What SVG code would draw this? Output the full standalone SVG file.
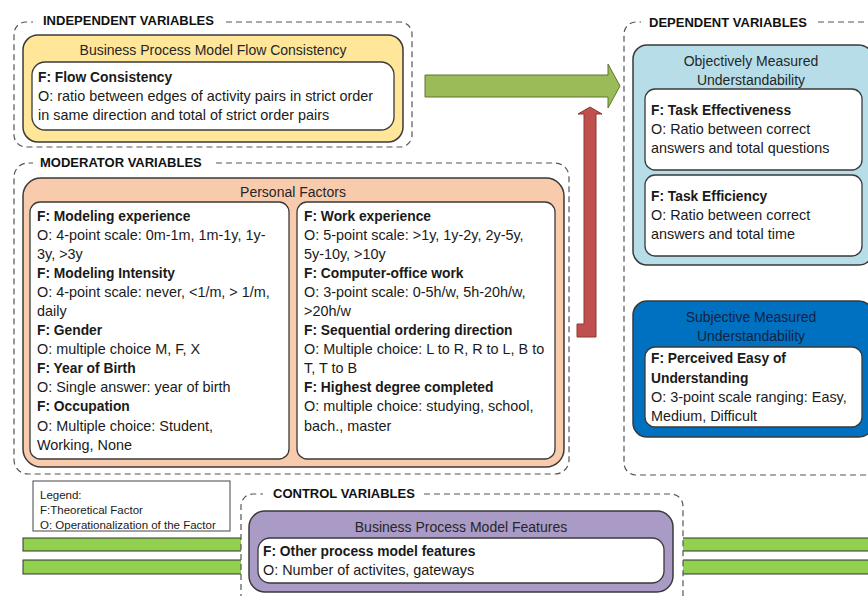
<svg xmlns="http://www.w3.org/2000/svg" width="868" height="596" viewBox="0 0 868 596">
  <defs>
    <style>
      text { font-family: "Liberation Sans", Arial, sans-serif; fill: #1a1a1a; }
      .sec { font-size: 13px; font-weight: bold; fill: #111; }
      .ttl { font-size: 14px; text-anchor: middle; fill: #262626; }
      .f { font-size: 13.8px; font-weight: bold; }
      .o { font-size: 14.4px; }
      .leg { font-size: 11.5px; }
      .group { fill: none; stroke: #555; stroke-width: 1.2; stroke-dasharray: 6 4; }
      .card { fill: #fff; stroke: #3a3a3a; stroke-width: 1.3; }
      .box { stroke: #3a3a3a; stroke-width: 1.5; }
    </style>
  </defs>

  <rect width="868" height="596" fill="#fff"/>

  <!-- control-variable bars running behind the control group -->
  <g id="bars">
    <rect x="23" y="538" width="860" height="13" fill="#92D050" stroke="#333" stroke-width="1"/>
    <rect x="23" y="560" width="860" height="14" fill="#92D050" stroke="#333" stroke-width="1"/>
  </g>

  <!-- group frames -->
  <g id="independent-group">
    <path class="group" d="M226,22 H400 A12,12 0 0 1 412,34 V135 A12,12 0 0 1 400,147 H26 A12,12 0 0 1 14,135 V34 A12,12 0 0 1 26,22 H33"/>
    <text class="sec" x="43" y="25">INDEPENDENT VARIABLES</text>
  </g>
  <g id="moderator-group">
    <path class="group" d="M216,163 H555 A14,14 0 0 1 569,177 V460 A14,14 0 0 1 555,474 H28 A14,14 0 0 1 14,460 V177 A14,14 0 0 1 28,163 H33"/>
    <text class="sec" x="40" y="167">MODERATOR VARIABLES</text>
  </g>
  <g id="dependent-group">
    <path class="group" d="M818,22 H876 M876,475 H636 A12,12 0 0 1 624,463 V34 A12,12 0 0 1 636,22 H641"/>
    <text class="sec" x="649" y="27">DEPENDENT VARIABLES</text>
  </g>
  <g id="control-group">
    <rect x="241" y="494" width="442" height="110" rx="12" fill="#fff"/>
    <path class="group" d="M424,494 H671 A12,12 0 0 1 683,506 V600 M241,600 V506 A12,12 0 0 1 253,494 H263"/>
    <text class="sec" x="273" y="498">CONTROL VARIABLES</text>
  </g>

  <!-- Business Process Model Flow Consistency -->
  <g id="flow-consistency">
    <rect class="box" x="23" y="35" width="380" height="107" rx="15" fill="#FFE699"/>
    <text class="ttl" x="213" y="55">Business Process Model Flow Consistency</text>
    <rect class="card" x="32" y="62" width="362" height="68" rx="13"/>
    <text class="f" x="38" y="82">F: Flow Consistency</text>
    <text class="o" x="38" y="101">O: ratio between edges of activity pairs in strict order</text>
    <text class="o" x="38" y="120">in same direction and total of strict order pairs</text>
  </g>

  <!-- Personal Factors -->
  <g id="personal-factors">
    <rect class="box" x="23" y="178" width="541" height="289" rx="18" fill="#F8CBAD"/>
    <text class="ttl" x="293" y="197">Personal Factors</text>
    <rect class="card" x="30" y="202" width="259" height="257" rx="10"/>
    <rect class="card" x="297" y="202" width="258" height="257" rx="10"/>
    <g>
      <text class="f" x="37" y="221">F: Modeling experience</text>
      <text class="o" x="37" y="240">O: 4-point scale: 0m-1m, 1m-1y, 1y-</text>
      <text class="o" x="37" y="259">3y, &gt;3y</text>
      <text class="f" x="37" y="278">F: Modeling Intensity</text>
      <text class="o" x="37" y="297">O: 4-point scale: never, &lt;1/m, &gt; 1/m,</text>
      <text class="o" x="37" y="316">daily</text>
      <text class="f" x="37" y="335">F: Gender</text>
      <text class="o" x="37" y="354">O: multiple choice M, F, X</text>
      <text class="f" x="37" y="373">F: Year of Birth</text>
      <text class="o" x="37" y="392">O: Single answer: year of birth</text>
      <text class="f" x="37" y="411">F: Occupation</text>
      <text class="o" x="37" y="431">O: Multiple choice: Student,</text>
      <text class="o" x="37" y="450">Working, None</text>
    </g>
    <g>
      <text class="f" x="304" y="221">F: Work experience</text>
      <text class="o" x="304" y="240">O: 5-point scale: &gt;1y, 1y-2y, 2y-5y,</text>
      <text class="o" x="304" y="259">5y-10y, &gt;10y</text>
      <text class="f" x="304" y="278">F: Computer-office work</text>
      <text class="o" x="304" y="297">O: 3-point scale: 0-5h/w, 5h-20h/w,</text>
      <text class="o" x="304" y="316">&gt;20h/w</text>
      <text class="f" x="304" y="335">F: Sequential ordering direction</text>
      <text class="o" x="304" y="354">O: Multiple choice: L to R, R to L, B to</text>
      <text class="o" x="304" y="373">T, T to B</text>
      <text class="f" x="304" y="392">F: Highest degree completed</text>
      <text class="o" x="304" y="411">O: multiple choice: studying, school,</text>
      <text class="o" x="304" y="431">bach., master</text>
    </g>
  </g>

  <!-- Objectively Measured Understandability -->
  <g id="objective-understandability">
    <rect class="box" x="633" y="45" width="240" height="220" rx="14" fill="#B7DEE8"/>
    <text class="ttl" x="751" y="66">Objectively Measured</text>
    <text class="ttl" x="751" y="85">Understandability</text>
    <rect class="card" x="645" y="89" width="217" height="81" rx="10"/>
    <text class="f" x="651" y="115">F: Task Effectiveness</text>
    <text class="o" x="651" y="134">O: Ratio between correct</text>
    <text class="o" x="651" y="153">answers and total questions</text>
    <rect class="card" x="645" y="175" width="217" height="81" rx="10"/>
    <text class="f" x="651" y="201">F: Task Efficiency</text>
    <text class="o" x="651" y="220">O: Ratio between correct</text>
    <text class="o" x="651" y="239">answers and total time</text>
  </g>

  <!-- Subjective Measured Understandability -->
  <g id="subjective-understandability">
    <rect class="box" x="633" y="301" width="240" height="136" rx="14" fill="#0070C0"/>
    <text class="ttl" x="751" y="322" style="fill:#15233f">Subjective Measured</text>
    <text class="ttl" x="751" y="341" style="fill:#15233f">Understandability</text>
    <rect class="card" x="645" y="347" width="217" height="80" rx="10"/>
    <text class="f" x="651" y="363">F: Perceived Easy of</text>
    <text class="f" x="651" y="383">Understanding</text>
    <text class="o" x="651" y="402">O: 3-point scale ranging: Easy,</text>
    <text class="o" x="651" y="421">Medium, Difficult</text>
  </g>

  <!-- Business Process Model Features -->
  <g id="model-features">
    <rect class="box" x="249" y="511" width="424" height="81" rx="16" fill="#AA9BC6"/>
    <text class="ttl" x="461" y="532">Business Process Model Features</text>
    <rect class="card" x="258" y="538" width="406" height="45" rx="12"/>
    <text class="f" x="263" y="556">F: Other process model features</text>
    <text class="o" x="263" y="575">O: Number of activites, gateways</text>
  </g>

  <!-- Legend -->
  <g id="legend">
    <rect x="33" y="481" width="197" height="50" fill="#fff" stroke="#444" stroke-width="1"/>
    <text class="leg" x="40" y="499">Legend:</text>
    <text class="leg" x="40" y="514">F:Theoretical Factor</text>
    <text class="leg" x="40" y="529">O: Operationalization of the Factor</text>
  </g>

  <!-- connectors -->
  <g id="connectors">
    <polygon points="425,75 608,75 608,64 620,86 608,108 608,97 425,97" fill="#9BBB59" stroke="#5E7530" stroke-width="1"/>
    <polygon points="577,337 577,324 584,324 584,114 578,114 590,107 602,114 596,114 596,337" fill="#C0504D" stroke="#8C3836" stroke-width="1"/>
  </g>
</svg>
